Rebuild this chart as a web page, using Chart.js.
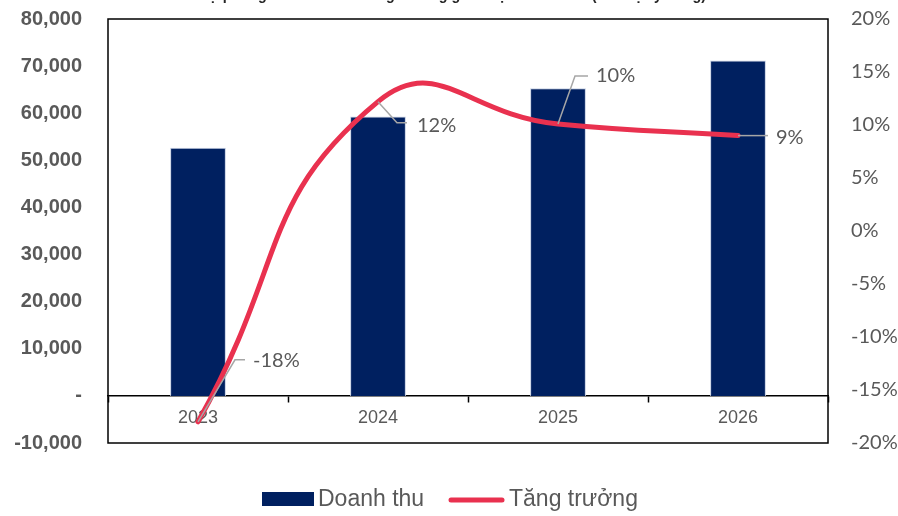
<!DOCTYPE html>
<html>
<head>
<meta charset="utf-8">
<script src="https://cdn.jsdelivr.net/npm/chart.js@4.4.1/dist/chart.umd.min.js"></script>
<style>
  html, body { margin: 0; padding: 0; background: #ffffff; }
  #wrap { width: 898px; height: 516px; position: relative; }
  canvas { display: block; }
</style>
</head>
<body>
<div id="wrap"><canvas id="c" width="898" height="516"></canvas></div>
<script>
// ---- Data ----
const years = ['2023', '2024', '2025', '2026'];
const revenue = [52650, 59300, 65300, 71200];
const growth = [-0.18, 0.122, 0.101, 0.09];
const growthLabels = ['-18%', '12%', '10%', '9%'];
const seriesNames = ['Doanh thu', 'Tăng trưởng'];
const titleText = 'Dự phóng doanh thu và tăng trưởng giai đoạn 2023-2026 (đơn vị: tỷ đồng)';

// ---- Styles ----
const NAVY = '#002060';
const RED = '#e9314f';
const GREY_TXT = '#595959';
const LEADER = '#a6a6a6';
const CAL = 'Lato, "Open Sans", sans-serif';
const ARIAL = '"Liberation Sans", Arial, sans-serif';

// label leader offsets (elbow, end, text) relative to the point, in px
const leaderOffsets = [
  { ex: 37, ey: -62, hx: 47, hy: -62, tx: 55, ty: -61 },
  { ex: 19, ey: 21, hx: 29, hy: 21, tx: 39, ty: 24 },
  { ex: 17, ey: -48, hx: 30, hy: -48, tx: 38, ty: -48 },
  { ex: 30, ey: 0, hx: 30, hy: 0, tx: 38, ty: 2 }
];

const framePlugin = {
  id: 'frame',
  beforeDraw(chart) {
    const { ctx } = chart;
    ctx.save();
    ctx.fillStyle = '#ffffff';
    ctx.fillRect(0, 0, chart.width, chart.height);
    // cut-off title (only descenders visible)
    ctx.fillStyle = '#262626';
    ctx.font = 'bold 17px ' + ARIAL;
    ctx.textAlign = 'center';
    ctx.textBaseline = 'alphabetic';
    ctx.fillText(titleText, 452, 0, 508);
    ctx.restore();
  },
  afterDraw(chart) {
    const { ctx, chartArea: a } = chart;
    ctx.save();
    ctx.strokeStyle = '#000000';
    ctx.lineWidth = 1.5;
    ctx.strokeRect(a.left, a.top, a.right - a.left, a.bottom - a.top);
    ctx.restore();

    // data labels with leader lines
    const meta = chart.getDatasetMeta(1);
    ctx.save();
    meta.data.forEach((pt, i) => {
      const o = leaderOffsets[i];
      ctx.strokeStyle = LEADER;
      ctx.lineWidth = 1.5;
      ctx.beginPath();
      ctx.moveTo(pt.x, pt.y);
      ctx.lineTo(pt.x + o.ex, pt.y + o.ey);
      ctx.lineTo(pt.x + o.hx, pt.y + o.hy);
      ctx.stroke();
      ctx.fillStyle = GREY_TXT;
      ctx.font = '20px ' + CAL;
      ctx.textAlign = 'left';
      ctx.textBaseline = 'middle';
      ctx.fillText(growthLabels[i], pt.x + o.tx, pt.y + o.ty);
    });
    ctx.restore();

    // legend
    ctx.save();
    ctx.fillStyle = NAVY;
    ctx.fillRect(262, 492, 52, 14);
    ctx.fillStyle = GREY_TXT;
    ctx.font = '23px ' + ARIAL;
    ctx.textAlign = 'left';
    ctx.textBaseline = 'alphabetic';
    ctx.fillText(seriesNames[0], 318, 506);
    ctx.strokeStyle = RED;
    ctx.lineWidth = 5;
    ctx.lineCap = 'round';
    ctx.beginPath();
    ctx.moveTo(451, 500);
    ctx.lineTo(502, 500);
    ctx.stroke();
    ctx.fillText(seriesNames[1], 509, 506);
    ctx.restore();
  }
};

new Chart(document.getElementById('c'), {
  data: {
    labels: years,
    datasets: [
      {
        type: 'bar',
        label: seriesNames[0],
        data: revenue,
        backgroundColor: NAVY,
        borderColor: '#c5cfe3',
        borderWidth: 1,
        categoryPercentage: 0.31,
        barPercentage: 1,
        yAxisID: 'y',
        order: 2
      },
      {
        type: 'line',
        label: seriesNames[1],
        data: growth,
        borderColor: RED,
        borderWidth: 5,
        borderCapStyle: 'round',
        pointRadius: 0,
        tension: 0.5,
        fill: false,
        yAxisID: 'y1',
        order: 1
      }
    ]
  },
  options: {
    responsive: false,
    animation: false,
    devicePixelRatio: 1,
    layout: { padding: { top: 19, bottom: 73, left: 0, right: 0 } },
    plugins: {
      legend: { display: false },
      tooltip: { enabled: false }
    },
    scales: {
      x: {
        position: { y: 0 },
        offset: true,
        grid: {
          offset: true,
          drawOnChartArea: false,
          drawTicks: true,
          tickLength: 6,
          tickWidth: 1.5,
          tickColor: '#000000'
        },
        border: { display: true, color: '#000000', width: 1.5 },
        ticks: {
          color: GREY_TXT,
          font: { family: ARIAL, size: 18 },
          padding: 5
        }
      },
      y: {
        position: 'left',
        min: -10000,
        max: 80000,
        grid: { display: false, drawTicks: false },
        border: { display: false },
        ticks: {
          stepSize: 10000,
          padding: 26,
          color: GREY_TXT,
          font: { family: ARIAL, size: 20, weight: 'bold' },
          callback: v => v === 0 ? '-' : v.toLocaleString('en-US')
        },
        afterFit(scale) { scale.width = 108; scale.paddingTop = 0; scale.paddingBottom = 0; }
      },
      y1: {
        position: 'right',
        min: -0.2,
        max: 0.2,
        grid: { display: false, drawTicks: false },
        border: { display: false },
        ticks: {
          stepSize: 0.05,
          padding: 23,
          color: GREY_TXT,
          font: { family: CAL, size: 20 },
          callback: v => Math.round(v * 100) + '%'
        },
        afterFit(scale) { scale.width = 70; scale.paddingTop = 0; scale.paddingBottom = 0; }
      }
    }
  },
  plugins: [framePlugin]
});
</script>
</body>
</html>
